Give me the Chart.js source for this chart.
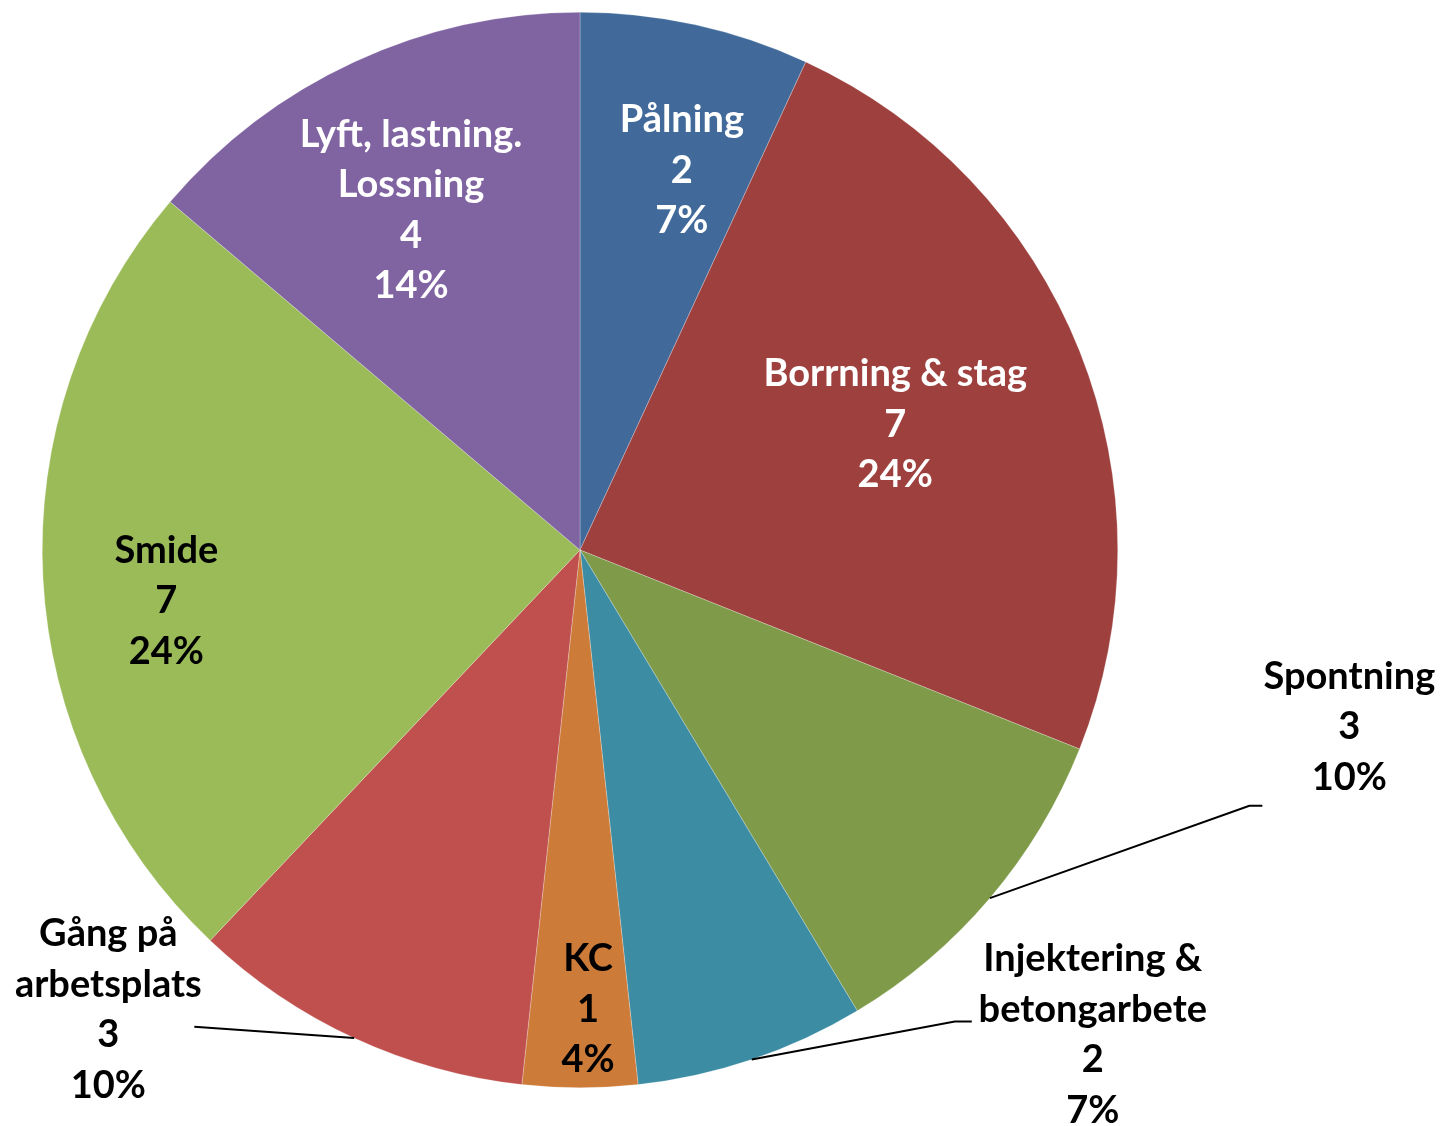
<!DOCTYPE html>
<html>
<head>
<meta charset="utf-8">
<script src="https://cdn.jsdelivr.net/npm/chart.js@4/dist/chart.umd.min.js"></script>
<style>
	body{margin:0;background:#fff;}
	#wrap{width:1442px;height:1126px;position:relative;}
</style>
</head>
<body>
<div id="wrap"><canvas id="pieCanvas"></canvas></div>
<script>
//data, clockwise from 12 o'clock
var categories=['Pålning','Borrning & stag','Spontning','Injektering & betongarbete','KC','Gång på arbetsplats','Smide','Lyft, lastning. Lossning'];
var categoryLines=[['Pålning'],['Borrning & stag'],['Spontning'],['Injektering &','betongarbete'],['KC'],['Gång på','arbetsplats'],['Smide'],['Lyft, lastning.','Lossning']];
var values=[2,7,3,2,1,3,7,4];
var colors=['#416A9B','#9E413E','#7F9B49','#3C8CA3','#CC7B38','#C0504D','#9BBB59','#8064A2'];
var textColors=['#fff','#fff','#000','#000','#000','#000','#000','#fff'];

//where each label goes: angle shift from slice middle (deg), radius factor, leader line
var labelPos=[
	{da:2.6, rf:0.731},
	{da:0, rf:0.631},
	{da:-27.4, rf:1.468, line:[-87,79], elbow:-13},
	{da:-28, rf:1.312, line:[-121,-13], elbow:-17},
	{da:-1, rf:0.855},
	{da:20.9, rf:1.225, line:[86,17], elbow:0},
	{da:-3.9, rf:0.775},
	{da:-1.6, rf:0.706}
];

function sum(arr){
	var t=0;
	for(var i=0; i<arr.length; i++){ t+=arr[i]; }
	return t;
}

//whole percents that add up to 100 (largest remainder), like the office chart does
function percents(arr){
	var total=sum(arr);
	var out=[], rest=[], used=0;
	for(var i=0; i<arr.length; i++){
		var p=arr[i]/total*100;
		out.push(Math.floor(p));
		rest.push({i:i, r:p-Math.floor(p)});
		used+=Math.floor(p);
	}
	rest.sort(function(a,b){ return b.r-a.r; });
	for(var k=0; k<100-used; k++){ out[rest[k].i]++; }
	return out;
}

var pieLabels={
	id:'pieLabels',
	afterDatasetsDraw:function(chart){
		var ctx=chart.ctx;
		var arcs=chart.getDatasetMeta(0).data;
		var pct=percents(values);
		ctx.save();
		ctx.font='bold 38px Lato';
		ctx.textAlign='center';
		ctx.textBaseline='middle';
		for(var i=0; i<arcs.length; i++){
			var arc=arcs[i];
			var p=labelPos[i];
			var mid=(arc.startAngle+arc.endAngle)/2;
			var a=mid+p.da*Math.PI/180;
			var tx=arc.x+Math.cos(a)*arc.outerRadius*p.rf;
			var ty=arc.y+Math.sin(a)*arc.outerRadius*p.rf;
			var lines=categoryLines[i].concat([String(values[i]), pct[i]+'%']);
			var lh=50.5;
			var y0=ty-(lines.length-1)*lh/2;
			if(p.line){
				var sx=arc.x+Math.cos(mid)*arc.outerRadius;
				var sy=arc.y+Math.sin(mid)*arc.outerRadius;
				var ex=tx+p.line[0], ey=ty+p.line[1];
				ctx.beginPath();
				ctx.strokeStyle='#000';
				ctx.lineWidth=2;
				ctx.moveTo(sx,sy);
				ctx.lineTo(ex+p.elbow,ey);
				ctx.lineTo(ex,ey);
				ctx.stroke();
			}
			ctx.fillStyle=textColors[i];
			for(var l=0; l<lines.length; l++){
				ctx.fillText(lines[l], tx, y0+l*lh);
			}
		}
		ctx.restore();
	}
};

var mc=new Chart(document.getElementById('pieCanvas'), {
	type:'pie',
	data:{
		labels:categories,
		datasets:[{
			data:values,
			backgroundColor:colors,
			borderColor:'rgba(255,255,255,0.5)',
			borderWidth:0.5
		}]
	},
	options:{
		responsive:true,
		maintainAspectRatio:false,
		animation:false,
		layout:{padding:{left:42, top:12, right:324, bottom:38}},
		plugins:{
			legend:{display:false},
			tooltip:{enabled:false}
		}
	},
	plugins:[pieLabels]
});
</script>
</body>
</html>
